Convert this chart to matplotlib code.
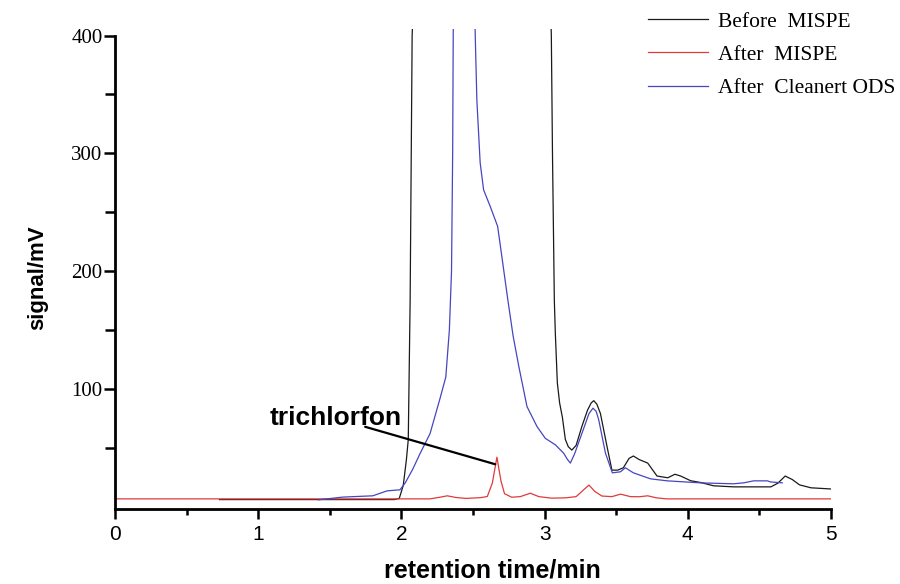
import matplotlib
matplotlib.use('Agg')
import matplotlib.pyplot as plt
import numpy as np

# chromatograms (retention time / min, signal / mV)
# values above 400 are off scale in the original and only mark the clipped peaks
t_before = [0.73, 1.95, 1.985, 2.013, 2.035, 2.048, 2.061, 2.075, 2.078, 2.55,
            3.045, 3.047, 3.055, 3.068, 3.075, 3.089, 3.105, 3.124, 3.145, 3.165,
            3.19, 3.22, 3.26, 3.30, 3.325, 3.343, 3.365, 3.39, 3.436, 3.47,
            3.51, 3.55, 3.59, 3.62, 3.66, 3.72, 3.785, 3.86, 3.91, 3.95,
            4.02, 4.09, 4.18, 4.32, 4.58, 4.63, 4.68, 4.73, 4.78, 4.86,
            5.0]
sig_before = [6.0, 6.0, 7.0, 18, 40, 57, 175, 400, 410, 2000,
              410, 400, 300, 175, 147, 105, 88, 76, 57, 51,
              48, 52, 68, 82, 88, 90, 87, 79, 51, 31,
              31, 33, 41, 43, 40, 37, 26, 24.5, 27.5, 26,
              22, 20.5, 17.7, 16.8, 16.8, 20, 26, 23, 18.5, 16,
              15]

t_mispe = [0.0, 2.20, 2.27, 2.32, 2.38, 2.45, 2.55, 2.60, 2.635, 2.667,
           2.695, 2.72, 2.77, 2.83, 2.90, 2.96, 3.05, 3.15, 3.22, 3.27,
           3.31, 3.35, 3.40, 3.47, 3.53, 3.60, 3.66, 3.72, 3.78, 3.85,
           5.0]
sig_mispe = [6.6, 6.6, 8.0, 9.2, 7.8, 7.0, 7.6, 8.6, 20, 42,
             22, 11, 8, 8.5, 11.4, 8.5, 7.2, 7.5, 8.5, 14,
             18.3, 13, 9, 8.5, 10.6, 8.5, 8.4, 9.2, 7.5, 6.6,
             6.6]

t_ods = [1.42, 1.59, 1.80, 1.90, 1.99, 2.027, 2.08, 2.13, 2.20, 2.27,
         2.31, 2.335, 2.35, 2.358, 2.362, 2.44, 2.515, 2.527, 2.55, 2.574,
         2.62, 2.672, 2.695, 2.744, 2.78, 2.82, 2.877, 2.947, 3.005, 3.075,
         3.133, 3.16, 3.18, 3.21, 3.26, 3.31, 3.338, 3.36, 3.378, 3.425,
         3.473, 3.53, 3.564, 3.62, 3.74, 3.857, 4.088, 4.32, 4.39, 4.46,
         4.556, 4.577, 4.66]
sig_ods = [5.8, 8.1, 9.2, 13.4, 14.3, 20.2, 32, 45, 62, 92,
           110, 150, 200, 300, 403, 1500, 403, 345, 292, 269,
           255, 238, 218, 175, 145, 119, 85, 68, 58, 52.5,
           45.4, 40, 37, 45, 62, 79, 83.6, 81, 73.7, 45.4,
           28.7, 29.6, 33, 28.7, 23.6, 21.9, 20.2, 19.4, 20.2, 21.9,
           21.9, 21, 20.2]

labels = ['Before  MISPE', 'After  MISPE', 'After  Cleanert ODS']
colors = ['#1a1a1a', '#e03a3a', '#4646c0']

peak_xy = (2.655, 36)      # trichlorfon peak
label_xy = (1.083, 69.5)   # text anchor
line_start = (1.747, 67.8)

fig = plt.figure(figsize=(9, 5.84), dpi=100)
ax = fig.add_axes([115 / 900, 75 / 584, 716 / 900, 480.5 / 584])

ax.plot(t_before, sig_before, color=colors[0], lw=0.9, label=labels[0])
ax.plot(t_mispe, sig_mispe, color=colors[1], lw=0.9, label=labels[1])
ax.plot(t_ods, sig_ods, color=colors[2], lw=0.9, label=labels[2])

ax.set_xlim(0, 5)
ax.set_ylim(-2, 406)

ax.spines['top'].set_visible(False)
ax.spines['right'].set_visible(False)
ax.spines['left'].set_linewidth(2)
ax.spines['bottom'].set_linewidth(2)
ax.spines['left'].set_bounds(-2, 400)

ax.set_xticks(np.arange(0, 5.1, 1))
ax.set_xticks(np.arange(0.5, 5, 1), minor=True)
ax.set_yticks([100, 200, 300, 400])
ax.set_yticks([50, 150, 250, 350], minor=True)
ax.tick_params(axis='both', which='both', direction='out', width=1.8)
ax.tick_params(axis='x', which='major', length=7.5, pad=4)
ax.tick_params(axis='x', which='minor', length=4)
ax.tick_params(axis='y', which='major', length=8, pad=1)
ax.tick_params(axis='y', which='minor', length=7.5)

for lab in ax.get_xticklabels():
    lab.set_fontfamily('Liberation Sans')
    lab.set_fontsize(15)
for lab in ax.get_yticklabels():
    lab.set_fontfamily('Liberation Serif')
    lab.set_fontsize(15)

fig.text(492 / 900, 1 - 578 / 584, 'retention time/min', ha='center', va='baseline',
         fontsize=18, fontweight='bold', family='Liberation Sans')
fig.text(38 / 900, 1 - 278 / 584, 'signal/mV', ha='center', va='center', rotation=90,
         fontsize=16, fontweight='bold', family='Liberation Sans')

ax.text(label_xy[0], label_xy[1], 'trichlorfon', ha='left', va='baseline',
        fontsize=19, fontweight='bold', family='Liberation Sans')
ax.annotate('', xy=peak_xy, xytext=line_start,
            arrowprops=dict(arrowstyle='-', lw=1.6, color='black', shrinkA=0, shrinkB=0))

leg = ax.legend(loc='upper left', bbox_to_anchor=(648 / 900, 1 - 11.5 / 584),
                bbox_transform=fig.transFigure, frameon=False,
                prop={'family': 'Liberation Serif', 'size': 15.5},
                handlelength=2.8, handletextpad=0.47, labelspacing=0.62,
                borderaxespad=0, borderpad=0)

fig.savefig('out.png', dpi=100)
